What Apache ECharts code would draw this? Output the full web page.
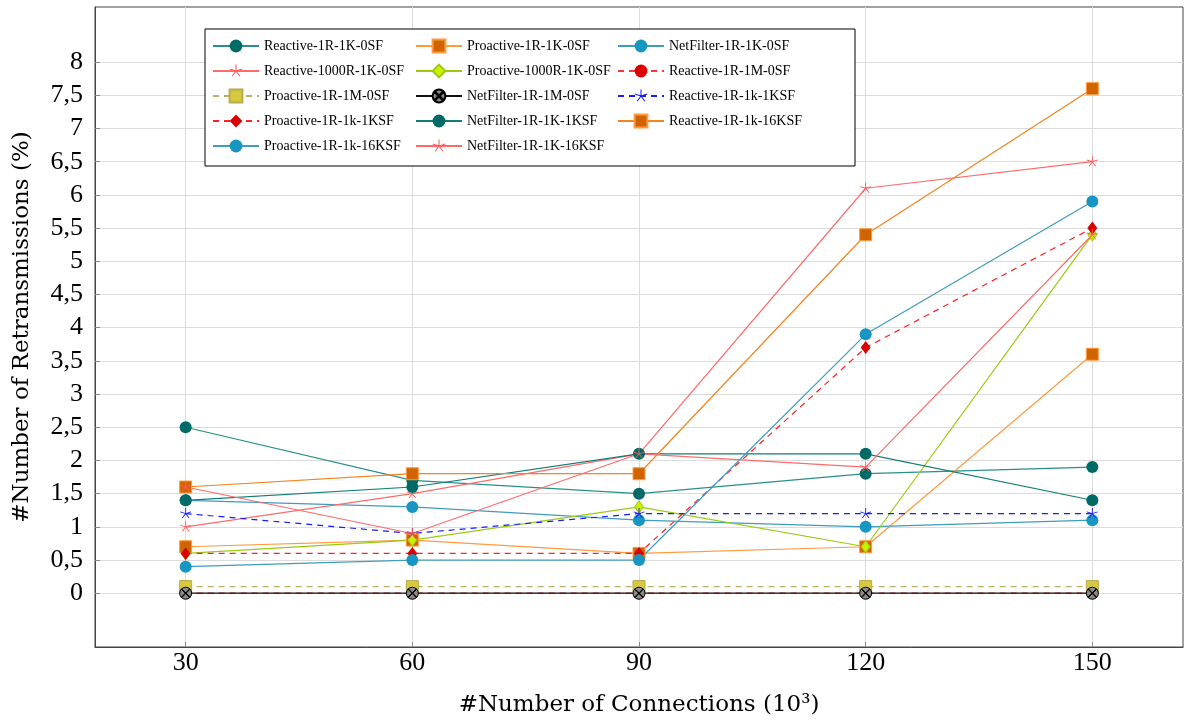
<!DOCTYPE html>
<html>
<head>
<meta charset="utf-8">
<script src="https://cdn.jsdelivr.net/npm/echarts@6/dist/echarts.min.js"></script>
<style>html,body{margin:0;padding:0;background:#fff}#c{width:1185px;height:720px}</style>
</head>
<body>
<div id="c"></div>
<script>
// ---------- data ----------
const connections = [30, 60, 90, 120, 150];
const yTickValues = [0, 0.5, 1, 1.5, 2, 2.5, 3, 3.5, 4, 4.5, 5, 5.5, 6, 6.5, 7, 7.5, 8];

const reactive1R1K0SF     = [2.5, 1.7, 1.5, 1.8, 1.9];
const proactive1R1K0SF    = [0.7, 0.8, 0.6, 0.7, 3.6];
const netfilter1R1K0SF    = [1.4, 1.3, 1.1, 1.0, 1.1];
const reactive1000R1K0SF  = [1.0, 1.5, 2.1, 6.1, 6.5];
const proactive1000R1K0SF = [0.6, 0.8, 1.3, 0.7, 5.4];
const reactive1R1M0SF     = [0, 0, 0, 0, 0];
const proactive1R1M0SF    = [0.1, 0.1, 0.1, 0.1, 0.1];
const netfilter1R1M0SF    = [0, 0, 0, 0, 0];
const reactive1R1k1KSF    = [1.2, 0.9, 1.2, 1.2, 1.2];
const proactive1R1k1KSF   = [0.6, 0.6, 0.6, 3.7, 5.5];
const netfilter1R1K1KSF   = [1.4, 1.6, 2.1, 2.1, 1.4];
const reactive1R1k16KSF   = [1.6, 1.8, 1.8, 5.4, 7.6];
const proactive1R1k16KSF  = [0.4, 0.5, 0.5, 3.9, 5.9];
const netfilter1R1K16KSF  = [1.6, 0.9, 2.1, 1.9, 5.4];

// ---------- symbols ----------
function asterisk(n, w) {
  let d = '';
  for (let i = 0; i < n; i++) {
    const a = (-90 + i * 360 / n) * Math.PI / 180;
    const dx = Math.cos(a), dy = Math.sin(a);
    const px = -dy * w / 2, py = dx * w / 2;
    d += 'M' + px + ' ' + py + ' L' + (dx + px) + ' ' + (dy + py) + ' L' + (dx - px) + ' ' + (dy - py) + ' L' + (-px) + ' ' + (-py) + ' Z ';
  }
  d += 'M-0.001 1 L0.001 1 L0 1 Z';
  return 'path://' + d;
}
function otimes(w) {
  const r = 0.7071;
  let d = 'M1 0 A1 1 0 1 1 -1 0 A1 1 0 1 1 1 0 Z ';
  const o = w / 2 * 0.7071;
  d += 'M' + (-r - o) + ' ' + (-r + o) + ' L' + (r - o) + ' ' + (r + o) + ' L' + (r + o) + ' ' + (r - o) + ' L' + (-r + o) + ' ' + (-r - o) + ' Z ';
  d += 'M' + (r + o) + ' ' + (-r + o) + ' L' + (-r + o) + ' ' + (r + o) + ' L' + (-r - o) + ' ' + (r - o) + ' L' + (r - o) + ' ' + (-r - o) + ' Z';
  return 'path://' + d;
}
const STAR = asterisk(5, 0.16);
const OTIMES = otimes(0.1);

const defs = [
  {name: 'Reactive-1R-1K-0SF', data: reactive1R1K0SF, line: '#2a8f8a', type: 'solid', symbol: 'circle', size: 12, fill: '#006b66', border: '#006b66', bw: 0},
  {name: 'Proactive-1R-1K-0SF', data: proactive1R1K0SF, line: '#ff9a40', type: 'solid', symbol: 'rect', size: 12, fill: '#d06400', border: '#ff9a40', bw: 1},
  {name: 'NetFilter-1R-1K-0SF', data: netfilter1R1K0SF, line: '#3f9cbb', type: 'solid', symbol: 'circle', size: 12, fill: '#1696c0', border: '#1696c0', bw: 0},
  {name: 'Reactive-1000R-1K-0SF', data: reactive1000R1K0SF, line: '#ff6b6b', type: 'solid', symbol: STAR, size: 11, fill: '#ff5a5a', border: '#ff5a5a', bw: 0},
  {name: 'Proactive-1000R-1K-0SF', data: proactive1000R1K0SF, line: '#99cc11', type: 'solid', symbol: 'diamond', size: [9, 12], fill: '#ccf000', border: '#99cc11', bw: 1},
  {name: 'Reactive-1R-1M-0SF', data: reactive1R1M0SF, line: '#ff3333', type: [6, 5], symbol: 'circle', size: 12, fill: '#dd0000', border: '#dd0000', bw: 0},
  {name: 'Proactive-1R-1M-0SF', data: proactive1R1M0SF, line: '#bdb068', type: [6, 5], symbol: 'rect', size: 12, fill: '#d6c93c', border: '#b8aa50', bw: 1},
  {name: 'NetFilter-1R-1M-0SF', data: netfilter1R1M0SF, line: '#111111', type: 'solid', symbol: OTIMES, size: 12, fill: '#8a8a8a', border: '#000000', bw: 1},
  {name: 'Reactive-1R-1k-1KSF', data: reactive1R1k1KSF, line: '#1a1aff', type: [6, 5], symbol: STAR, size: 11, fill: '#1a1aff', border: '#1a1aff', bw: 0},
  {name: 'Proactive-1R-1k-1KSF', data: proactive1R1k1KSF, line: '#ff2020', type: [6, 5], symbol: 'diamond', size: [10, 13], fill: '#dd0000', border: '#dd0000', bw: 0},
  {name: 'NetFilter-1R-1K-1KSF', data: netfilter1R1K1KSF, line: '#0f7d78', type: 'solid', symbol: 'circle', size: 12, fill: '#006b66', border: '#006b66', bw: 0},
  {name: 'Reactive-1R-1k-16KSF', data: reactive1R1k16KSF, line: '#f5841f', type: 'solid', symbol: 'rect', size: 12, fill: '#d06400', border: '#ff9a40', bw: 1},
  {name: 'Proactive-1R-1k-16KSF', data: proactive1R1k16KSF, line: '#3f9cbb', type: 'solid', symbol: 'circle', size: 12, fill: '#1696c0', border: '#1696c0', bw: 0},
  {name: 'NetFilter-1R-1K-16KSF', data: netfilter1R1K16KSF, line: '#ff6b6b', type: 'solid', symbol: STAR, size: 11, fill: '#ff5a5a', border: '#ff5a5a', bw: 0}
];

const series = defs.map(d => ({
  name: d.name,
  type: 'line',
  data: connections.map((x, i) => [x, d.data[i]]),
  symbol: d.symbol,
  symbolSize: d.size,
  showAllSymbol: true,
  lineStyle: {color: d.line, width: 1.2, type: d.type},
  itemStyle: {color: d.fill, borderColor: d.border, borderWidth: d.bw},
  emphasis: {disabled: true},
  animation: false
}));

const legendText = {fontFamily: 'Liberation Serif', fontSize: 14, color: '#000', lineHeight: 16};
function legendCol(idx, left) {
  return {
    orient: 'vertical', left: left, top: 38, padding: 0,
    itemWidth: 46, itemHeight: 16, itemGap: 9,
    selectedMode: false,
    textStyle: legendText,
    data: idx.map(i => defs[i].name)
  };
}

const tickFont = {fontFamily: 'Liberation Serif', fontSize: 26, color: '#000'};
const titleFont = {fontFamily: 'DejaVu Serif', fontSize: 23, color: '#000'};

const chart = echarts.init(document.getElementById('c'), null, {renderer: 'canvas'});
chart.setOption({
  backgroundColor: '#fff',
  animation: false,
  grid: {left: 95, right: 2, top: 7, bottom: 73, show: true, borderColor: '#444', borderWidth: 1,
    containLabel: false, outerBoundsMode: 'none'},
  graphic: [{
    type: 'rect', shape: {x: 205, y: 29, width: 650, height: 137},
    style: {fill: '#fff', stroke: '#000', lineWidth: 1}, z: 3, silent: true
  }],
  legend: [legendCol([0, 3, 6, 9, 12], 212), legendCol([1, 4, 7, 10, 13], 415), legendCol([2, 5, 8, 11], 617)],
  xAxis: {
    type: 'value', min: 18, max: 162,
    name: '#Number of Connections (10³)', nameLocation: 'middle', nameGap: 47,
    nameTextStyle: titleFont,
    axisLine: {show: true, onZero: false, lineStyle: {color: '#444'}},
    axisTick: {show: true, inside: true, length: 5, lineStyle: {color: '#888'}, customValues: connections},
    axisLabel: Object.assign({customValues: connections, margin: 3}, tickFont),
    splitLine: {show: true, lineStyle: {color: '#dcdcdc', width: 1}}
  },
  yAxis: {
    type: 'value', min: -0.81, max: 8.83,
    name: '#Number of Retransmissions (%)', nameLocation: 'middle', nameGap: 61,
    nameTextStyle: titleFont,
    axisLine: {show: true, onZero: false, lineStyle: {color: '#444'}},
    axisTick: {show: true, inside: true, length: 5, lineStyle: {color: '#888'}, customValues: yTickValues},
    axisLabel: Object.assign({customValues: yTickValues, margin: 12,
      formatter: v => String(v).replace('.', ',')}, tickFont),
    splitLine: {show: true, lineStyle: {color: '#dcdcdc', width: 1}}
  },
  series: series
});
</script>
</body>
</html>
